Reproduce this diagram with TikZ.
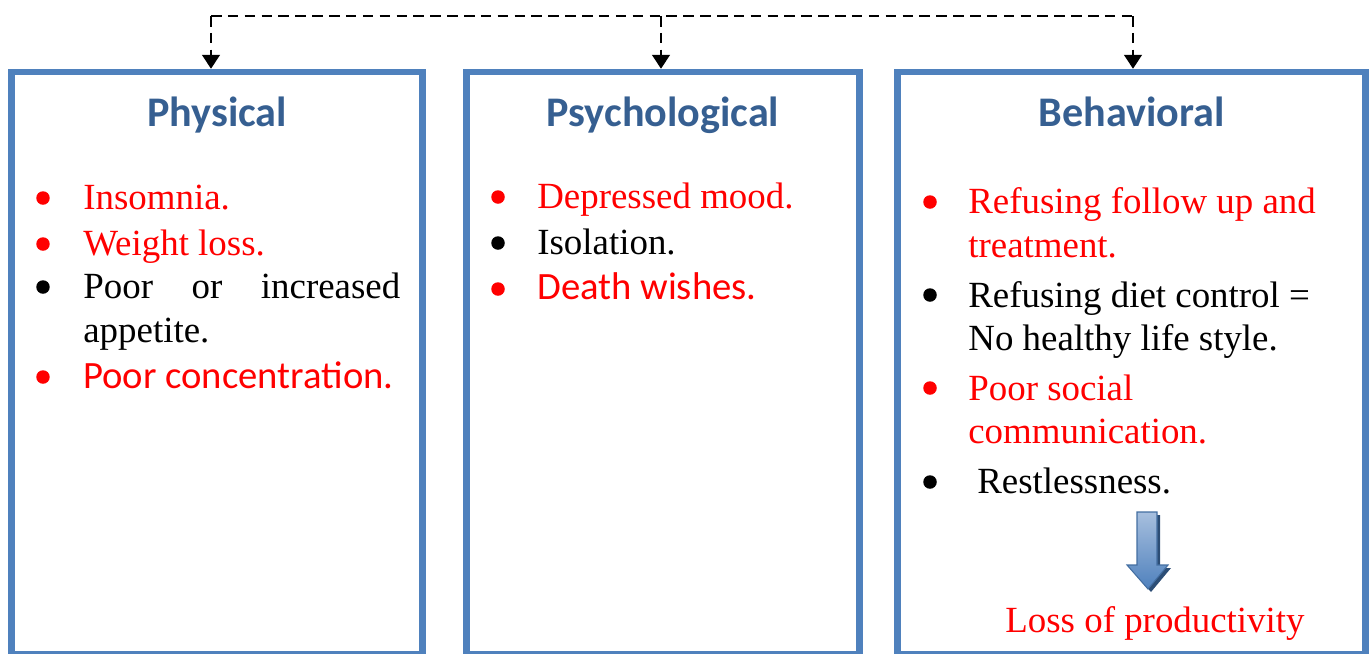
\documentclass[tikz,border=0pt]{standalone}
\usepackage{fontspec}
\setmainfont{Liberation Serif}
\newfontfamily\calibri{Carlito}
\usetikzlibrary{arrows.meta}
\definecolor{boxblue}{RGB}{79,129,189}
\definecolor{headblue}{RGB}{54,95,145}
\definecolor{arrowlight}{RGB}{167,191,222}
\definecolor{arrowdark}{RGB}{44,77,117}
\newcommand{\bodysize}{\fontsize{21}{25}\selectfont}
\tikzset{
  panel/.style={draw=boxblue, line width=3.7pt, minimum height=11.64cm, inner sep=0},
  head/.style={anchor=base, font=\calibri\bfseries\fontsize{24}{28}\selectfont, text=headblue, inner sep=0},
  entry/.style={anchor=base west, font=\bodysize, inner sep=0},
  sansentry/.style={entry, font=\calibri\fontsize{22}{26}\selectfont},
  dot/.style={circle, fill, inner sep=0, minimum size=0.27cm},
  link/.style={line width=1.6pt, dash pattern=on 6pt off 3.6pt}
}

\begin{document}
\begin{tikzpicture}[x=0.02cm, y=-0.02cm]
  \useasboundingbox (0,0) rectangle (1372,653);
  % the three panels
  \node[panel, minimum width=8.22cm] (phys) at (217.2,363) {};
  \node[panel, minimum width=7.852cm] (psych) at (663,363) {};
  \node[panel, minimum width=9.368cm] (behav) at (1131.5,363) {};
  % dashed feed from the top
  \coordinate (ta) at (211,16);
  \coordinate (tb) at (661,16);
  \coordinate (tc) at (1133,16);
  \draw[link] (ta) -- (tc);
  \foreach \t/\p in {ta/phys, tb/psych, tc/behav} {
    \draw[link, -{Triangle[width=10pt,length=8pt]}] (\t) -- (\t |- \p.north);
  }
  % headings
  \node[head] (physh) at (217.2,126) {Physical};
  \node[head] (psychh) at (663,126) {Psychological};
  \node[head] (behavh) at (1131.5,126) {Behavioral};
  % physical
  \node[dot, red] (physda) at (43,198) {};
  \node[entry, red] (physa) at (83,209) {Insomnia.};
  \node[dot, red] (physdb) at (43,244) {};
  \node[entry, red] (physb) at (83,255) {Weight loss.};
  \node[dot] (physdc) at (43,287) {};
  \node[entry] (physc) at (83,298) {\makebox[6.34cm][s]{Poor or increased}};
  \node[entry] (physc2) at (83,342) {appetite.};
  \node[dot, red] (physdd) at (43,377) {};
  \node[sansentry, red] (physd) at (83,388) {Poor concentration.};
  % psychological
  \node[dot, red] (psychda) at (498,197) {};
  \node[entry, red] (psycha) at (537,208) {Depressed mood.};
  \node[dot] (psychdb) at (498,243) {};
  \node[entry] (psychb) at (537,254) {Isolation.};
  \node[dot, red] (psychdc) at (498,289) {};
  \node[sansentry, red] (psychc) at (537,299) {Death wishes.};
  % behavioral
  \node[dot, red] (behavda) at (930,202) {};
  \node[entry, red] (behava) at (968,213) {Refusing follow up and};
  \node[entry, red] (behava2) at (968,257) {treatment.};
  \node[dot] (behavdb) at (930,295) {};
  \node[entry] (behavb) at (968,307) {Refusing diet control =};
  \node[entry] (behavb2) at (968,350) {No healthy life style.};
  \node[dot, red] (behavdc) at (930,388) {};
  \node[entry, red] (behavc) at (968,400) {Poor social};
  \node[entry, red] (behavc2) at (968,443) {communication.};
  \node[dot] (behavdd) at (930,482) {};
  \node[entry] (behavd) at (977,493) {Restlessness.};
  % block arrow and result
  \fill[arrowdark] (1140,515) -- (1160,515) -- (1160,568) -- (1171,568) -- (1151,592)
    -- (1130,568) -- (1140,568) -- cycle;
  \shadedraw[top color=arrowlight, bottom color=boxblue, draw=boxblue!85!black, line width=0.6pt]
    (1137,512) -- (1157,512) -- (1157,565) -- (1168,565) -- (1148,589)
    -- (1127,565) -- (1137,565) -- cycle;
  \node[entry, red, anchor=base] (loss) at (1155,632) {Loss of productivity};
\end{tikzpicture}
\end{document}
